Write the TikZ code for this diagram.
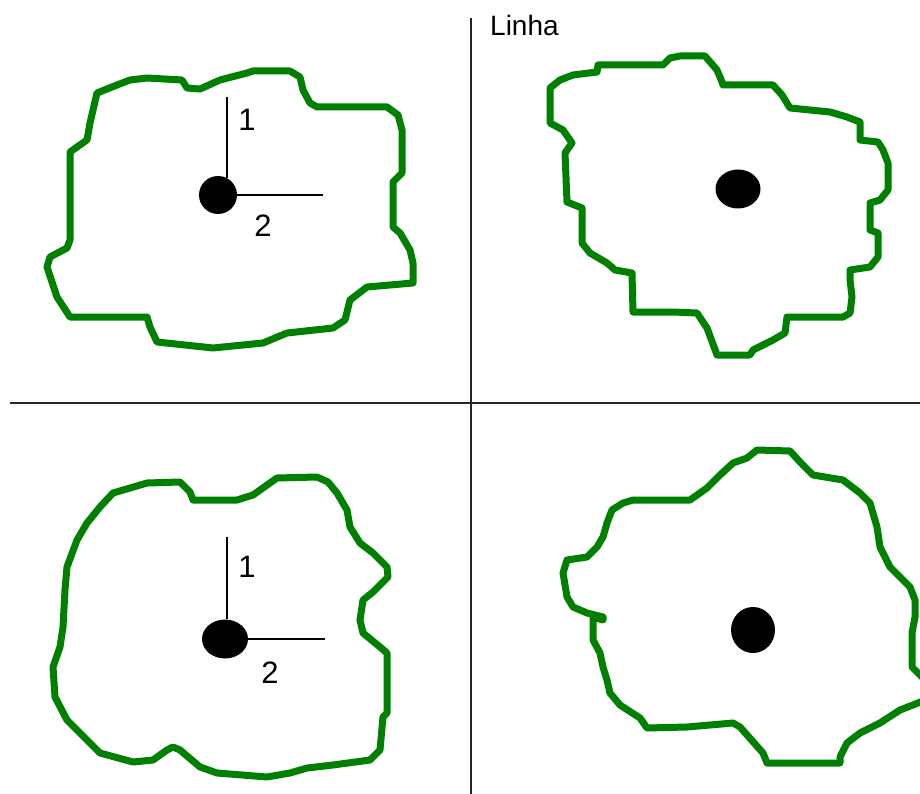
\documentclass[tikz,border=0pt]{standalone}
\usepackage{fontspec}
\setmainfont{Liberation Sans}
\definecolor{leaf}{RGB}{0, 128, 0}
\usetikzlibrary{shapes.geometric, positioning}

\begin{document}
\begin{tikzpicture}[
        x=1pt, y=-1pt,
        every node/.style={font=\fontsize{28}{30}\selectfont},
        digit/.style={font=\fontsize{31}{33}\selectfont},
        outline/.style={draw=leaf, line width=7pt, line join=round},
        spot/.style={ellipse, fill=black, inner sep=0pt},
        axisline/.style={draw=black, line width=1.5pt},
        divider/.style={draw=black!85, line width=1.8pt}
    ]
        \useasboundingbox (0,0) rectangle (920,794);
        \clip (0,0) rectangle (920,794);
        \fill[white] (0,0) rectangle (920,794);

        % dividing lines
        \coordinate (vtop) at (471,18);
        \coordinate (vbot) at (471,794);
        \coordinate (hleft) at (10,403);
        \coordinate (hright) at (920,403);
        \draw[divider] (vtop) -- (vbot);
        \draw[divider] (hleft) -- (hright);
        \node[anchor=west, inner sep=0pt] (linha) at (490,25) {Linha};

        % top left
        \draw[outline] (97,93) -- (117,85) -- (130,80) -- (147,78) -- (182,80) -- (187,88) -- (200,89)
            -- (220,80) -- (247,73) -- (253,71) -- (290,71) -- (300,77) -- (303,90) -- (310,103)
            -- (317,107) -- (387,107) -- (398,115) -- (402,130) -- (402,173) -- (393,182) -- (393,227)
            -- (400,233) -- (410,250) -- (413,263) -- (413,283) -- (367,287) -- (350,300) -- (345,320)
            -- (333,328) -- (287,333) -- (263,343) -- (213,348) -- (157,342) -- (150,327) -- (147,317)
            -- (70,317) -- (57,297) -- (47,267) -- (50,257) -- (67,248) -- (70,240) -- (70,152)
            -- (77,147) -- (87,140) -- (90,123) -- cycle;
        \node[spot, minimum width=38pt, minimum height=38pt] (spotA) at (218,195) {};
        \coordinate (endA1) at (227,97);
        \coordinate (endA2) at (323,195);
        \draw[axisline] (endA1) -- (endA1 |- spotA.62);
        \draw[axisline] (spotA.east) -- (endA2);
        \node[digit] (labA1) at (247,120) {1};
        \node[digit] (labA2) at (263,226) {2};

        % top right
        \draw[outline] (550,88) -- (560,80) -- (573,75) -- (597,72) -- (598,65) -- (663,65) -- (670,58)
            -- (680,56) -- (705,56) -- (717,70) -- (722,82) -- (723,85) -- (773,85) -- (782,95)
            -- (790,108) -- (830,112) -- (847,117) -- (860,122) -- (860,140) -- (878,142) -- (883,150)
            -- (888,163) -- (888,190) -- (880,200) -- (870,203) -- (870,230) -- (878,233) -- (878,257)
            -- (870,267) -- (850,270) -- (850,280) -- (852,297) -- (850,313) -- (843,317) -- (787,317)
            -- (785,333) -- (773,340) -- (753,350) -- (750,355) -- (717,355) -- (707,328) -- (697,313)
            -- (673,312) -- (633,312) -- (632,273) -- (615,270) -- (607,263) -- (590,253) -- (582,243)
            -- (582,208) -- (567,202) -- (565,153) -- (572,143) -- (563,130) -- (550,123) -- cycle;
        \node[spot, minimum width=45pt, minimum height=39pt] (spotB) at (738,189) {};

        % bottom left
        \draw[outline] (87,523) -- (100,507) -- (113,493) -- (147,483) -- (180,482) -- (190,492)
            -- (193,500) -- (237,500) -- (253,495) -- (277,478) -- (317,477) -- (328,482) -- (337,493)
            -- (347,510) -- (350,527) -- (360,543) -- (373,553) -- (387,567) -- (388,577) -- (373,592)
            -- (363,600) -- (360,620) -- (363,633) -- (380,647) -- (387,653) -- (387,713) -- (383,717)
            -- (380,750) -- (370,760) -- (333,765) -- (307,768) -- (290,773) -- (267,777) -- (217,773)
            -- (200,767) -- (180,750) -- (173,747) -- (167,750) -- (153,760) -- (133,762) -- (100,753)
            -- (67,720) -- (55,697) -- (53,667) -- (60,647) -- (63,627) -- (65,590) -- (67,567)
            -- (77,540) -- cycle;
        \node[spot, minimum width=46pt, minimum height=39pt] (spotC) at (225,639) {};
        \coordinate (endC1) at (227,537);
        \coordinate (endC2) at (325,639);
        \draw[axisline] (endC1) -- (endC1 |- spotC.north);
        \draw[axisline] (spotC.east) -- (endC2);
        \node[digit] (labC1) at (247,567) {1};
        \node[digit] (labC2) at (270,673) {2};

        % bottom right
        \draw[outline] (567,560) -- (587,557) -- (597,547) -- (603,537) -- (607,523) -- (612,510)
            -- (623,503) -- (633,500) -- (690,500) -- (707,488) -- (720,475) -- (733,463) -- (747,458)
            -- (757,450) -- (790,451) -- (800,462) -- (813,475) -- (843,480) -- (860,493) -- (870,503)
            -- (877,527) -- (880,547) -- (890,567) -- (910,587) -- (915,600) -- (915,617) -- (912,633)
            -- (912,667) -- (925,680) -- (925,700) -- (918,703) -- (900,710) -- (880,723) -- (860,733)
            -- (847,743) -- (840,757) -- (840,763) -- (767,763) -- (763,753) -- (740,727) -- (733,723)
            -- (687,727) -- (647,728) -- (640,718) -- (620,705) -- (610,693) -- (607,680) -- (603,667)
            -- (600,653) -- (593,640) -- (593,617) -- (603,620) -- (603,617) -- (587,613) -- (573,607)
            -- (567,597) -- (563,573) -- cycle;
        \node[spot, minimum width=44pt, minimum height=46pt] (spotD) at (753,630) {};
    \end{tikzpicture}
\end{document}
